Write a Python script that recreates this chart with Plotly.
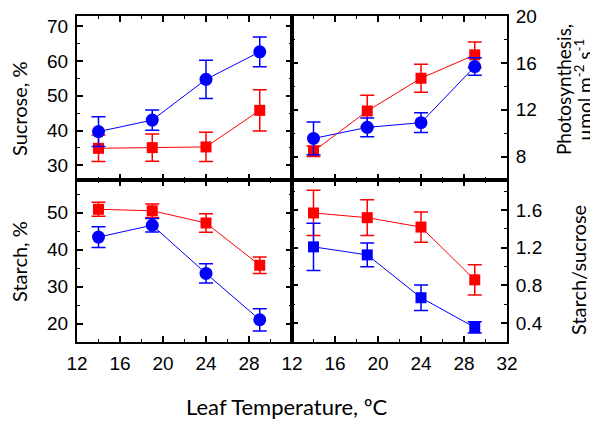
import plotly.graph_objects as go

W, H = 598, 421
OX, OY = 8, 8  # page body margin offset

temps = [14, 19, 24, 29]

sucrose_blue = [39.7, 43.0, 54.7, 62.6]
sucrose_blue_err = [4.3, 2.9, 5.5, 4.3]
sucrose_red = [34.9, 35.1, 35.3, 45.8]
sucrose_red_err = [3.8, 3.9, 4.2, 5.9]

photo_blue = [9.55, 10.5, 10.9, 15.7]
photo_blue_err = [1.4, 0.8, 0.85, 0.75]
photo_red = [8.45, 11.9, 14.7, 16.7]
photo_red_err = [0.45, 1.35, 1.2, 1.1]

starch_blue = [43.4, 46.6, 33.6, 21.1]
starch_blue_err = [2.8, 1.8, 2.6, 3.0]
starch_red = [50.9, 50.5, 47.2, 35.8]
starch_red_err = [1.9, 1.8, 2.5, 2.2]

ratio_blue = [1.21, 1.125, 0.67, 0.355]
ratio_blue_err = [0.25, 0.125, 0.135, 0.06]
ratio_red = [1.57, 1.52, 1.42, 0.86]
ratio_red_err = [0.24, 0.19, 0.16, 0.16]

x_ticks_left = [12, 16, 20, 24, 28]
x_ticks_right = [12, 16, 20, 24, 28, 32]
photo_ticks = [8, 12, 16, 20]

BLUE = "#0000FF"
RED = "#FF0000"

fig = go.Figure()


def add(x, y, err, color, symbol, size, xa, ya):
    fig.add_trace(go.Scatter(
        x=x, y=y, mode="lines+markers",
        line=dict(color=color, width=1),
        marker=dict(color=color, symbol=symbol, size=size),
        error_y=dict(type="data", array=err, visible=True, color=color,
                     thickness=1.5, width=7),
        xaxis=xa, yaxis=ya, showlegend=False, cliponaxis=False,
    ))


add(temps, sucrose_red, sucrose_red_err, RED, "square", 11, "x", "y")
add(temps, sucrose_blue, sucrose_blue_err, BLUE, "circle", 13, "x", "y")
add(temps, photo_red, photo_red_err, RED, "square", 11, "x2", "y2")
add(temps, photo_blue, photo_blue_err, BLUE, "circle", 13, "x2", "y2")
add(temps, starch_red, starch_red_err, RED, "square", 11, "x3", "y3")
add(temps, starch_blue, starch_blue_err, BLUE, "circle", 13, "x3", "y3")
add(temps, ratio_red, ratio_red_err, RED, "square", 11, "x4", "y4")
add(temps, ratio_blue, ratio_blue_err, BLUE, "square", 11, "x4", "y4")


def px(x):
    return (x - OX) / W


def py(y):
    return 1 - (y - OY) / H


xL = [px(77), px(292)]
xR = [px(292), px(507)]
yT = [py(180), py(16)]
yB = [py(342), py(180)]

tickfont = dict(family="Liberation Sans, Arial", size=19, color="black")


def axis(domain, rng, dtick, minor_dtick, tickvals=None, labels=True, side=None, anchor=None):
    d = dict(
        domain=domain, range=rng, showline=True, linewidth=2, linecolor="black",
        mirror="allticks", ticks="inside", ticklen=6, tickwidth=1.5, tickcolor="black",
        showgrid=False, zeroline=False, showticklabels=labels, tickfont=tickfont,
        minor=dict(ticks="inside", ticklen=3, tickwidth=1, tickcolor="black", dtick=minor_dtick, showgrid=False),
        anchor=anchor, automargin=False, ticklabelstandoff=3, ticklabeloverflow="allow",
    )
    if tickvals is not None:
        d["tickmode"] = "array"
        d["tickvals"] = tickvals
    else:
        d["dtick"] = dtick
        d["tick0"] = 0
    if side:
        d["side"] = side
    return d


fig.update_layout(
    width=W, height=H, margin=dict(l=0, r=0, t=0, b=0, autoexpand=False),
    paper_bgcolor="white", plot_bgcolor="white",
    xaxis=axis(xL, [12, 32], 4, 2, x_ticks_left, labels=False, anchor="y"),
    yaxis=axis(yT, [25.8, 72.9], 10, 5, anchor="x"),
    xaxis2=axis(xR, [12, 32], 4, 2, x_ticks_right, labels=False, anchor="y2"),
    yaxis2=axis(yT, [6, 20.02], 4, 2, photo_ticks, side="right", anchor="x2"),
    xaxis3=axis(xL, [12, 32], 4, 2, x_ticks_left, anchor="y3"),
    yaxis3=axis(yB, [15.1, 58.8], 10, 5, anchor="x3"),
    xaxis4=axis(xR, [12, 32], 4, 2, x_ticks_right, anchor="y4"),
    yaxis4=axis(yB, [0.2, 1.92], 0.4, 0.2, side="right", anchor="x4"),
)

ann = [
    dict(text="Sucrose, %", x=px(19), y=py(109), textangle=-90, fs=20),
    dict(text="Starch, %", x=px(19), y=py(262), textangle=-90, fs=20),
    dict(text="Photosynthesis,", x=px(564), y=py(90), textangle=-90, fs=19),
    dict(text="µmol m<sup>-2</sup> s<sup>-1</sup>", x=px(584), y=py(90), textangle=-90, fs=19),
    dict(text="Starch/sucrose", x=px(578), y=py(270), textangle=-90, fs=20),
    dict(text="Leaf Temperature, ºC", x=px(287), y=py(406), textangle=0, fs=22),
]
for a in ann:
    fs = a.pop("fs")
    fig.add_annotation(xref="paper", yref="paper", showarrow=False,
                       font=dict(family="Lato, Open Sans", size=fs, color="black"),
                       xanchor="center", yanchor="middle", **a)

fig.write_html("out.html")
